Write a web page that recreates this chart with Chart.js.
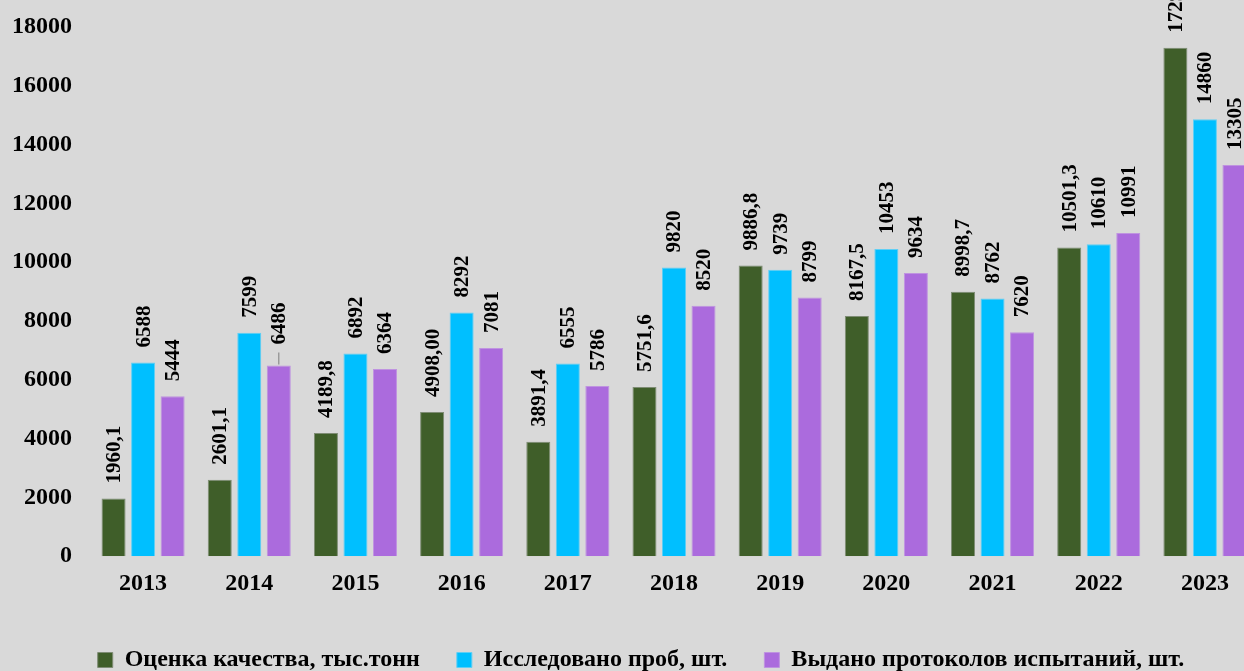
<!DOCTYPE html>
<html><head><meta charset="utf-8">
<script src="https://cdn.jsdelivr.net/npm/chart.js@4"></script>
<style>
html,body{margin:0;padding:0;background:#d9d9d9;overflow:hidden;width:1244px;height:671px}
#wrap{width:1282px;height:671px;position:relative}
</style></head><body>
<div id="wrap"><canvas id="c" width="1282" height="671"></canvas></div>
<script>
const years = ['2013','2014','2015','2016','2017','2018','2019','2020','2021','2022','2023'];
const qualityValues = [1960.1, 2601.1, 4189.8, 4908.0, 3891.4, 5751.6, 9886.8, 8167.5, 8998.7, 10501.3, 17290];
const qualityLabels = ['1960,1','2601,1','4189,8','4908,00','3891,4','5751,6','9886,8','8167,5','8998,7','10501,3','17290,0'];
const samplesValues = [6588, 7599, 6892, 8292, 6555, 9820, 9739, 10453, 8762, 10610, 14860];
const protocolsValues = [5444, 6486, 6364, 7081, 5786, 8520, 8799, 9634, 7620, 10991, 13305];
const seriesNames = ['Оценка качества, тыс.тонн', 'Исследовано проб, шт.', 'Выдано протоколов испытаний, шт.'];
const yMin = 0, yMax = 18000, yStep = 2000;

const FONT = '"Liberation Serif", "Times New Roman", serif';

const valueLabels = {
  id: 'valueLabels',
  afterDatasetsDraw(chart) {
    const ctx = chart.ctx;
    ctx.save();
    ctx.font = 'bold 21px ' + FONT;
    ctx.fillStyle = '#000';
    chart.data.datasets.forEach((ds, di) => {
      const meta = chart.getDatasetMeta(di);
      meta.data.forEach((el, i) => {
        const txt = ds.valueText ? ds.valueText[i] : String(ds.data[i]);
        let gap = 15;
        if (di === 2 && i === 1) {
          gap = 21;
          ctx.save();
          ctx.strokeStyle = '#8c8c8c';
          ctx.lineWidth = 1.2;
          ctx.beginPath();
          ctx.moveTo(el.x, el.y - 1);
          ctx.lineTo(el.x, el.y - 13);
          ctx.stroke();
          ctx.restore();
        }
        ctx.save();
        ctx.translate(el.x + 1, el.y - gap);
        ctx.rotate(-Math.PI / 2);
        ctx.textAlign = 'left';
        ctx.textBaseline = 'middle';
        ctx.fillText(txt, 0, 0);
        ctx.restore();
      });
    });
    ctx.restore();
  }
};

const legendShift = {
  id: 'legendShift',
  afterLayout(chart) {
    if (chart.legend) { chart.legend.left += 15; chart.legend.right += 15; }
  }
};

new Chart(document.getElementById('c'), {
  type: 'bar',
  data: {
    labels: years,
    datasets: [
      { label: seriesNames[0], data: qualityValues, valueText: qualityLabels,
        backgroundColor: '#3f5e29', borderColor: '#7e8c74', borderWidth: 1 },
      { label: seriesNames[1], data: samplesValues,
        backgroundColor: '#00bfff', borderColor: '#5fcff5', borderWidth: 1 },
      { label: seriesNames[2], data: protocolsValues,
        backgroundColor: '#ab6bdd', borderColor: '#bf93e0', borderWidth: 1 }
    ]
  },
  options: {
    responsive: false,
    animation: false,
    devicePixelRatio: 1,
    categoryPercentage: 0.834,
    barPercentage: 0.814,
    layout: { padding: { top: 27, left: -6, right: 24, bottom: -11 } },
    plugins: {
      tooltip: { enabled: false },
      legend: {
        position: 'bottom',
        labels: {
          boxWidth: 15, boxHeight: 15, padding: 37,
          color: '#000',
          font: { family: FONT, size: 24, weight: 'bold' }
        }
      }
    },
    scales: {
      x: {
        grid: { display: false, drawTicks: false },
        border: { display: false },
        ticks: { color: '#000', padding: 13, font: { family: FONT, size: 24, weight: 'bold' } }
      },
      y: {
        min: yMin, max: yMax,
        grid: { display: false, drawTicks: false },
        border: { display: false },
        afterFit(scale) { scale.paddingTop = 0; },
        ticks: {
          stepSize: yStep, padding: 18, color: '#000',
          font: { family: FONT, size: 24, weight: 'bold' },
          callback: v => String(v)
        }
      }
    }
  },
  plugins: [valueLabels, legendShift]
});
</script>
</body></html>
